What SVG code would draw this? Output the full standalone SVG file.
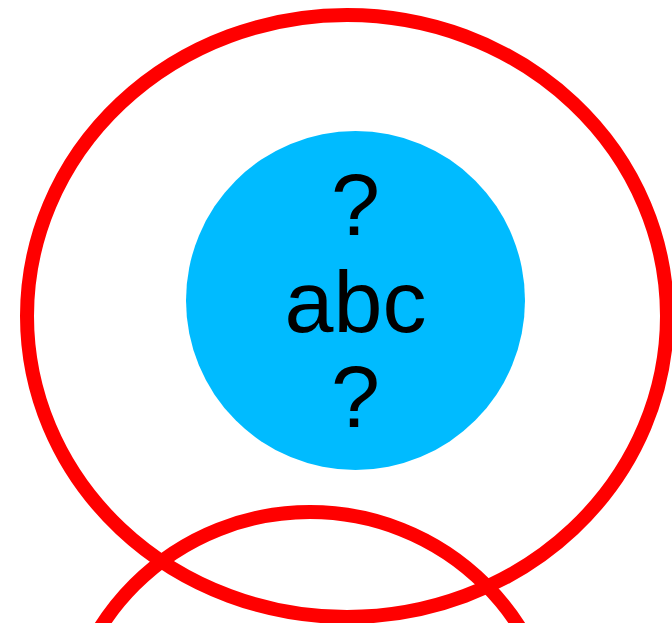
<svg xmlns="http://www.w3.org/2000/svg" width="672" height="623" viewBox="0 0 672 623">
<style>
.ring{fill:none;stroke:#FF0000;stroke-width:14}
.lbl{font-family:"Liberation Sans",Arial,sans-serif;font-size:88px;fill:#000;text-anchor:middle}
</style>
<rect width="672" height="623" fill="#FFFFFF"/>
<g id="outer-ring"><ellipse class="ring" cx="347" cy="316" rx="320" ry="301"/></g>
<g id="node"><circle cx="355.5" cy="300.5" r="169.5" fill="#00BBFF"/>
<text class="lbl" x="355.5" y="235">?</text>
<text class="lbl" x="355.5" y="332">abc</text>
<text class="lbl" x="355.5" y="427">?</text></g>
<g id="lower-ring"><circle class="ring" cx="310" cy="760" r="248"/></g>
</svg>
